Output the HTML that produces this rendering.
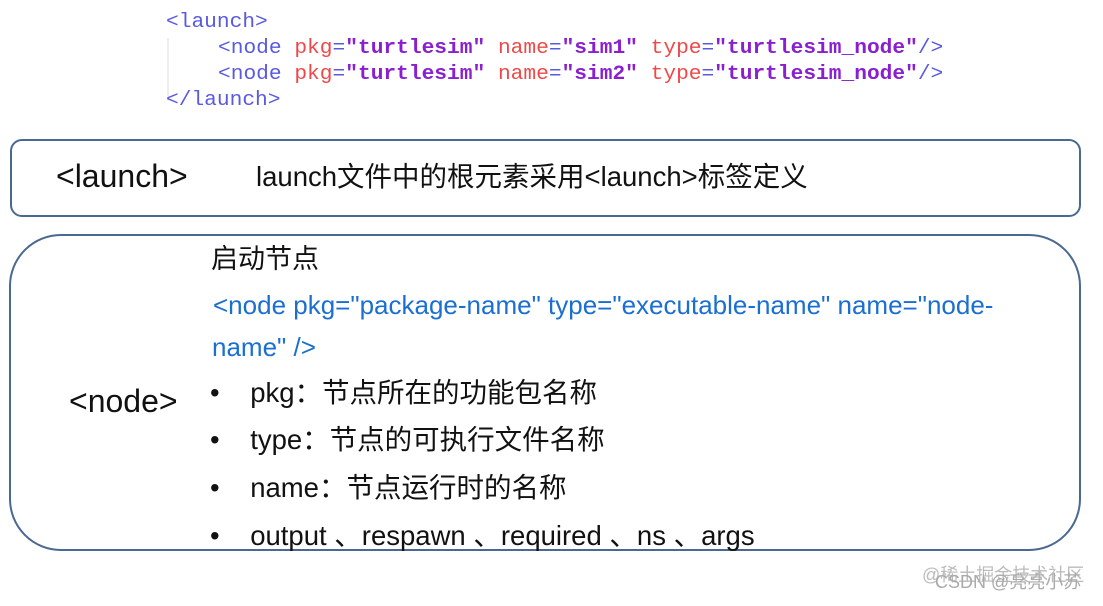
<!DOCTYPE html>
<html><head><meta charset="utf-8"><style>
body{margin:0;width:1103px;height:606px;background:#fff;position:relative;overflow:hidden;font-family:"Liberation Sans","Noto Sans CJK SC",sans-serif;}
.a{position:absolute;white-space:nowrap;line-height:1;}
.code{font-family:"Liberation Mono",monospace;font-size:20px;color:#5a5ae0;transform:scaleX(1.06);transform-origin:left;}
.r{color:#f04848}.p{color:#8a1fd0;font-weight:bold}
.box{position:absolute;border:2px solid #4a6890;box-sizing:border-box;}
.t{font-size:27.5px;color:#111;}
.b{font-size:26px;color:#1a6fd0;}
</style></head><body>
<div style="position:absolute;left:167px;top:38px;width:2px;height:58px;background:#eee"></div>
<div class="a code" style="left:166px;top:13px">&lt;launch&gt;</div>
<div class="a code" style="left:218px;top:39px">&lt;node <span class="r">pkg</span>=<span class="p">"turtlesim"</span> <span class="r">name</span>=<span class="p">"sim1"</span> <span class="r">type</span>=<span class="p">"turtlesim_node"</span>/&gt;</div>
<div class="a code" style="left:218px;top:65px">&lt;node <span class="r">pkg</span>=<span class="p">"turtlesim"</span> <span class="r">name</span>=<span class="p">"sim2"</span> <span class="r">type</span>=<span class="p">"turtlesim_node"</span>/&gt;</div>
<div class="a code" style="left:166px;top:91px">&lt;/launch&gt;</div>

<div class="box" style="left:10px;top:139px;width:1071px;height:78px;border-radius:12px"></div>
<div class="a" style="left:56px;top:160px;font-size:32px;color:#111">&lt;launch&gt;</div>
<div class="a" style="left:256px;top:163px;font-size:27.5px;color:#111">launch文件中的根元素采用&lt;launch&gt;标签定义</div>

<div class="box" style="left:9px;top:234px;width:1072px;height:317px;border-radius:52px"></div>
<div class="a" style="left:69px;top:385px;font-size:32px;color:#111">&lt;node&gt;</div>
<div class="a" style="left:211px;top:246px;font-size:27px;color:#111">启动节点</div>
<div class="a b" style="left:213px;top:292px">&lt;node pkg="package-name" type="executable-name" name="node-</div>
<div class="a b" style="left:212px;top:334px">name" /&gt;</div>
<div class="a t" style="left:210px;top:379px">•&nbsp;&nbsp;&nbsp;&nbsp;pkg：节点所在的功能包名称</div>
<div class="a t" style="left:210px;top:426px">•&nbsp;&nbsp;&nbsp;&nbsp;type：节点的可执行文件名称</div>
<div class="a t" style="left:210px;top:474px">•&nbsp;&nbsp;&nbsp;&nbsp;name：节点运行时的名称</div>
<div class="a t" style="left:210px;top:522px">•&nbsp;&nbsp;&nbsp;&nbsp;output 、respawn 、required 、ns 、args</div>

<div class="a" style="left:922px;top:566px;font-size:18px;color:#bbb">@稀土掘金技术社区</div>
<div class="a" style="left:935px;top:573px;font-size:18px;color:#aaa">CSDN @亮亮小苏</div>
</body></html>
